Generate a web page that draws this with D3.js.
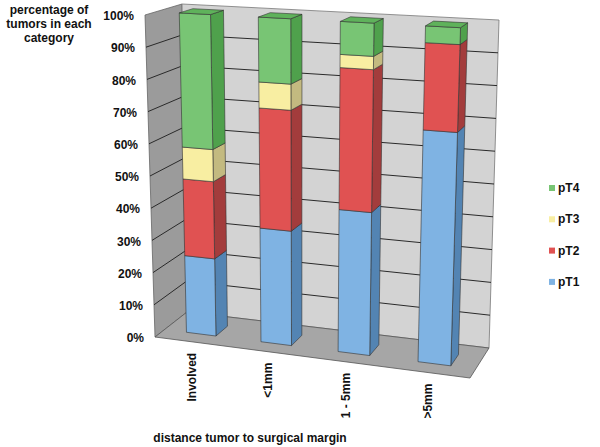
<!DOCTYPE html>
<html>
<head>
<meta charset="utf-8">
<script src="https://cdn.jsdelivr.net/npm/d3@7"></script>
<style>
  body { margin: 0; background: #fff; }
  svg text { font-family: "Liberation Sans", Arial, sans-serif; font-weight: bold; fill: #111; }
</style>
</head>
<body>
<div id="chart"></div>
<script>
// data (percent of tumors per margin group)
const categories = ["Involved", "<1mm", "1 - 5mm", ">5mm"];
const seriesKeys = ["pT1", "pT2", "pT3", "pT4"];
const pT1 = [24, 35, 43, 69];
const pT2 = [24, 37, 43, 26];
const pT3 = [10, 8, 4, 0];
const pT4 = [42, 20, 10, 5];
const yTicks = [0, 10, 20, 30, 40, 50, 60, 70, 80, 90, 100];

const colors = {
    pT1: { front: "#7fb3e3", side: "#5384b3", top: "#6a9fd0" },
    pT2: { front: "#e05252", side: "#a33c3c", top: "#c44646" },
    pT3: { front: "#f8eea2", side: "#c3ba80", top: "#e0d68f" },
    pT4: { front: "#78c574", side: "#4fa14c", top: "#5fb25b" }
};

const rows = categories.map((c, i) => ({ cat: c, pT1: pT1[i], pT2: pT2[i], pT3: pT3[i], pT4: pT4[i] }));
const stacked = d3.stack().keys(seriesKeys)(rows);

const width = 600, height = 447;
const svg = d3.select("#chart").append("svg")
    .attr("width", width)
    .attr("height", height);

// perspective along the category direction, straight in the value direction
function planeMap(q) {
    const [x0, y0] = q[0], [x1, y1] = q[1], [x2, y2] = q[2], [x3, y3] = q[3];
    const dx1 = x1 - x2, dx2 = x3 - x2, dx3 = x0 - x1 + x2 - x3;
    const dy1 = y1 - y2, dy2 = y3 - y2, dy3 = y0 - y1 + y2 - y3;
    const det = dx1 * dy2 - dx2 * dy1;
    const g = (dx3 * dy2 - dx2 * dy3) / det, h = (dx1 * dy3 - dx3 * dy1) / det;
    const a = x1 - x0 + g * x1, b = x3 - x0 + h * x3, c = x0;
    const d = y1 - y0 + g * y1, e = y3 - y0 + h * y3, f = y0;
    const H = (u, v) => {
        const z = g * u + h * v + 1;
        return [(a * u + b * v + c) / z, (d * u + e * v + f) / z];
    };
    return (u, v) => {
        const lo = H(u, 0), hi = H(u, 1);
        return [lo[0] + (hi[0] - lo[0]) * v, lo[1] + (hi[1] - lo[1]) * v];
    };
}

// plot box: front plane and back wall corners
const front = planeMap([[155, 337], [470, 378], [482, 33], [145, 15]]);
const back = planeMap([[187, 312], [489, 348], [499, 20], [182, 4]]);

function P(u, v, w) {
    const f = front(u, v), b = back(u, v);
    return [f[0] + (b[0] - f[0]) * w, f[1] + (b[1] - f[1]) * w];
}
const poly = pts => "M" + pts.map(p => p[0].toFixed(2) + "," + p[1].toFixed(2)).join("L") + "Z";

const x = d3.scaleBand()
    .domain(categories)
    .range([0, 1])
    .paddingInner(0.6)
    .paddingOuter(0.3);

const y = d3.scaleLinear()
    .domain([0, 100])
    .range([0, 1]);

const wFront = 0.3, wBack = 0.68;

// walls
svg.append("path")
    .attr("d", poly([P(0, 0, 0), P(0, 1, 0), P(0, 1, 1), P(0, 0, 1)]))
    .attr("fill", "#9b9b9b")
    .attr("stroke", "#666")
    .attr("stroke-width", 0.8);

svg.append("path")
    .attr("d", poly([P(0, 0, 1), P(0, 1, 1), P(1, 1, 1), P(1, 0, 1)]))
    .attr("fill", "#d3d3d3")
    .attr("stroke", "#777")
    .attr("stroke-width", 0.8);

svg.append("path")
    .attr("d", poly([P(0, 0, 0), P(0, 0, 1), P(1, 0, 1), P(1, 0, 0)]))
    .attr("fill", "#a6a6a6")
    .attr("stroke", "#555")
    .attr("stroke-width", 0.8);

// gridlines on side wall and back wall
const grid = svg.append("g");
yTicks.filter(t => t > 0 && t < 100).forEach(t => {
    const v = y(t);
    grid.append("path")
        .attr("d", "M" + [P(0, v, 0), P(0, v, 1), P(1, v, 1)].map(p => p.join(",")).join("L"))
        .attr("fill", "none")
        .attr("stroke", "#2a2a2a")
        .attr("stroke-width", 1);
});

// y tick labels along the front edge
svg.append("g").selectAll("text")
    .data(yTicks)
    .enter()
    .append("text")
    .attr("x", d => P(0, y(d), 0)[0] - 11)
    .attr("y", d => P(0, y(d), 0)[1] + 2)
    .attr("text-anchor", "end")
    .attr("dominant-baseline", "middle")
    .style("font-size", "12px")
    .text(d => d + "%");

// bars
const bars = svg.append("g");
categories.forEach((cat, i) => {
    const u0 = x(cat), u1 = x(cat) + x.bandwidth();
    let topV = 0, topKey = null;
    stacked.forEach(s => {
        const seg = s[i];
        if (seg[1] - seg[0] <= 0) return;
        const v0 = y(seg[0]), v1 = y(seg[1]);
        const col = colors[s.key];
        bars.append("path")
            .attr("d", poly([P(u1, v0, wFront), P(u1, v0, wBack), P(u1, v1, wBack), P(u1, v1, wFront)]))
            .attr("fill", col.side)
            .attr("stroke", "#333")
            .attr("stroke-width", 0.6);
        bars.append("path")
            .attr("d", poly([P(u0, v0, wFront), P(u1, v0, wFront), P(u1, v1, wFront), P(u0, v1, wFront)]))
            .attr("fill", col.front)
            .attr("stroke", "#333")
            .attr("stroke-width", 0.6);
        topV = v1;
        topKey = s.key;
    });
    bars.append("path")
        .attr("d", poly([P(u0, topV, wFront), P(u1, topV, wFront), P(u1, topV, wBack), P(u0, topV, wBack)]))
        .attr("fill", colors[topKey].top)
        .attr("stroke", "#333")
        .attr("stroke-width", 0.6);
});

// category labels, rotated
svg.append("g").selectAll("text")
    .data(categories)
    .enter()
    .append("text")
    .attr("transform", d => {
        const p = P(x(d) + x.bandwidth() / 2, 0, 0);
        return "translate(" + (p[0] + 4) + "," + (p[1] + 11) + ") rotate(-90)";
    })
    .attr("text-anchor", "end")
    .style("font-size", "12px")
    .text(d => d);

// axis titles
const yTitle = svg.append("text")
    .attr("x", 49)
    .attr("y", 14)
    .attr("text-anchor", "middle")
    .style("font-size", "12px");
["percentage of", "tumors in each", "category"].forEach((line, k) => {
    yTitle.append("tspan")
        .attr("x", 49)
        .attr("dy", k === 0 ? 0 : 14)
        .text(line);
});

svg.append("text")
    .attr("x", 250)
    .attr("y", 442)
    .attr("text-anchor", "middle")
    .style("font-size", "12px")
    .text("distance tumor to surgical margin");

// legend
const legend = svg.append("g")
    .attr("transform", "translate(549, 189)");
seriesKeys.slice().reverse().forEach((key, k) => {
    legend.append("rect")
        .attr("x", 0)
        .attr("y", k * 31.3 - 4)
        .attr("width", 6)
        .attr("height", 6)
        .attr("fill", colors[key].front);
    legend.append("text")
        .attr("x", 9)
        .attr("y", k * 31.3)
        .attr("dominant-baseline", "middle")
        .style("font-size", "12px")
        .text(key);
});
</script>
</body>
</html>
